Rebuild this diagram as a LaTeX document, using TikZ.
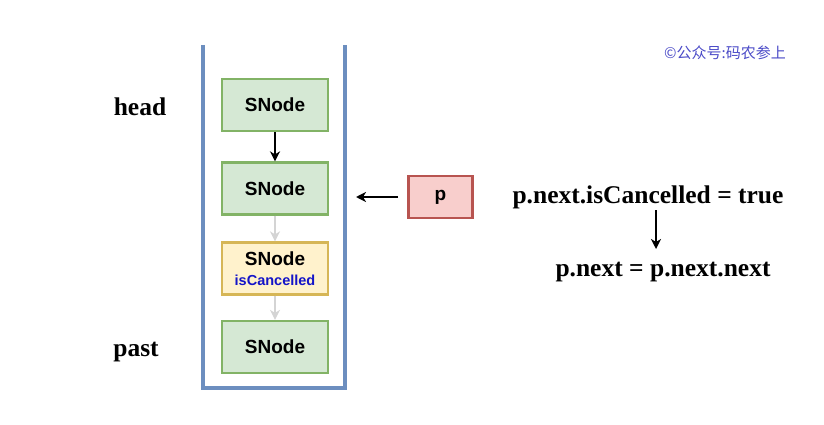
\documentclass[tikz,border=0pt]{standalone}
\usepackage{fontspec}
\setmainfont{Liberation Serif}
\newfontfamily\arialf{Liberation Sans}
\newfontfamily\cjk{Noto Sans CJK SC}
\usetikzlibrary{arrows.meta}
\definecolor{gfill}{HTML}{D5E8D4}
\definecolor{gline}{HTML}{82B366}
\definecolor{yfill}{HTML}{FFF2CC}
\definecolor{yline}{HTML}{D6B656}
\definecolor{rfill}{HTML}{F8CECC}
\definecolor{rline}{HTML}{B85450}
\definecolor{cont}{HTML}{6C8EBF}
\definecolor{wm}{HTML}{4B4BC8}
\definecolor{ghost}{HTML}{D4D4D4}
\definecolor{cancel}{HTML}{1414C8}
\begin{document}
\begin{tikzpicture}[x=1pt,y=-1pt,
  snode/.style={draw=gline,fill=gfill,line width=2.2pt,minimum width=106pt,minimum height=52pt,inner sep=0pt,font=\arialf\bfseries\fontsize{19}{21}\selectfont},
  ynode/.style={snode,draw=yline,fill=yfill},
  pbox/.style={draw=rline,fill=rfill,line width=2.2pt,minimum width=64pt,minimum height=42pt,inner sep=0pt,font=\arialf\bfseries\fontsize{19}{21}\selectfont},
  lbl/.style={font=\bfseries\fontsize{25.5}{28}\selectfont,inner sep=0pt},
  arr/.style={-{Stealth[length=10pt,width=10pt,inset=3pt]},line width=2pt},
  ghostarr/.style={arr,draw=ghost,line width=1.6pt}]
\useasboundingbox (0,0) rectangle (824,425);
\fill[white] (0,0) rectangle (824,425);
% container
\draw[cont,line width=4pt] (203,45) -- (203,388) -- (345,388) -- (345,45);
% nodes
\node[snode] (n1) at (275,105) {SNode};
\node[snode] (n2) at (275,188.5) {SNode};
\node[ynode,align=center] (n3) at (275,268.5) {SNode\\[-1pt]{\color{cancel}\fontsize{14.5}{16}\selectfont isCancelled}};
\node[snode] (n4) at (275,347) {SNode};
\draw[arr] (n1) -- (n2);
\draw[ghostarr] (n2) -- (n3);
\draw[ghostarr] (n3) -- (n4);
% p
\node[pbox] (p) at (440.5,197) {p};
\coordinate (ptgt) at (356,197);
\coordinate (pst) at (398,197);
\draw[arr] (pst) -- (ptgt);
% labels
\node[lbl] (head) at (140,107) {head};
\node[lbl] (past) at (136,352) {past};
\node[lbl] (t1) at (648,197) {p.next.isCancelled = true};
\node[lbl] (t2) at (663,272) {p.next = p.next.next};
\coordinate (a1) at (656,210);
\coordinate (a2) at (656,249);
\draw[arr] (a1) -- (a2);
% watermark
\node[font=\cjk\fontsize{15}{17}\selectfont,text=wm,inner sep=0pt] (wmk) at (725,53) {©公众号:码农参上};
\end{tikzpicture}
\end{document}
